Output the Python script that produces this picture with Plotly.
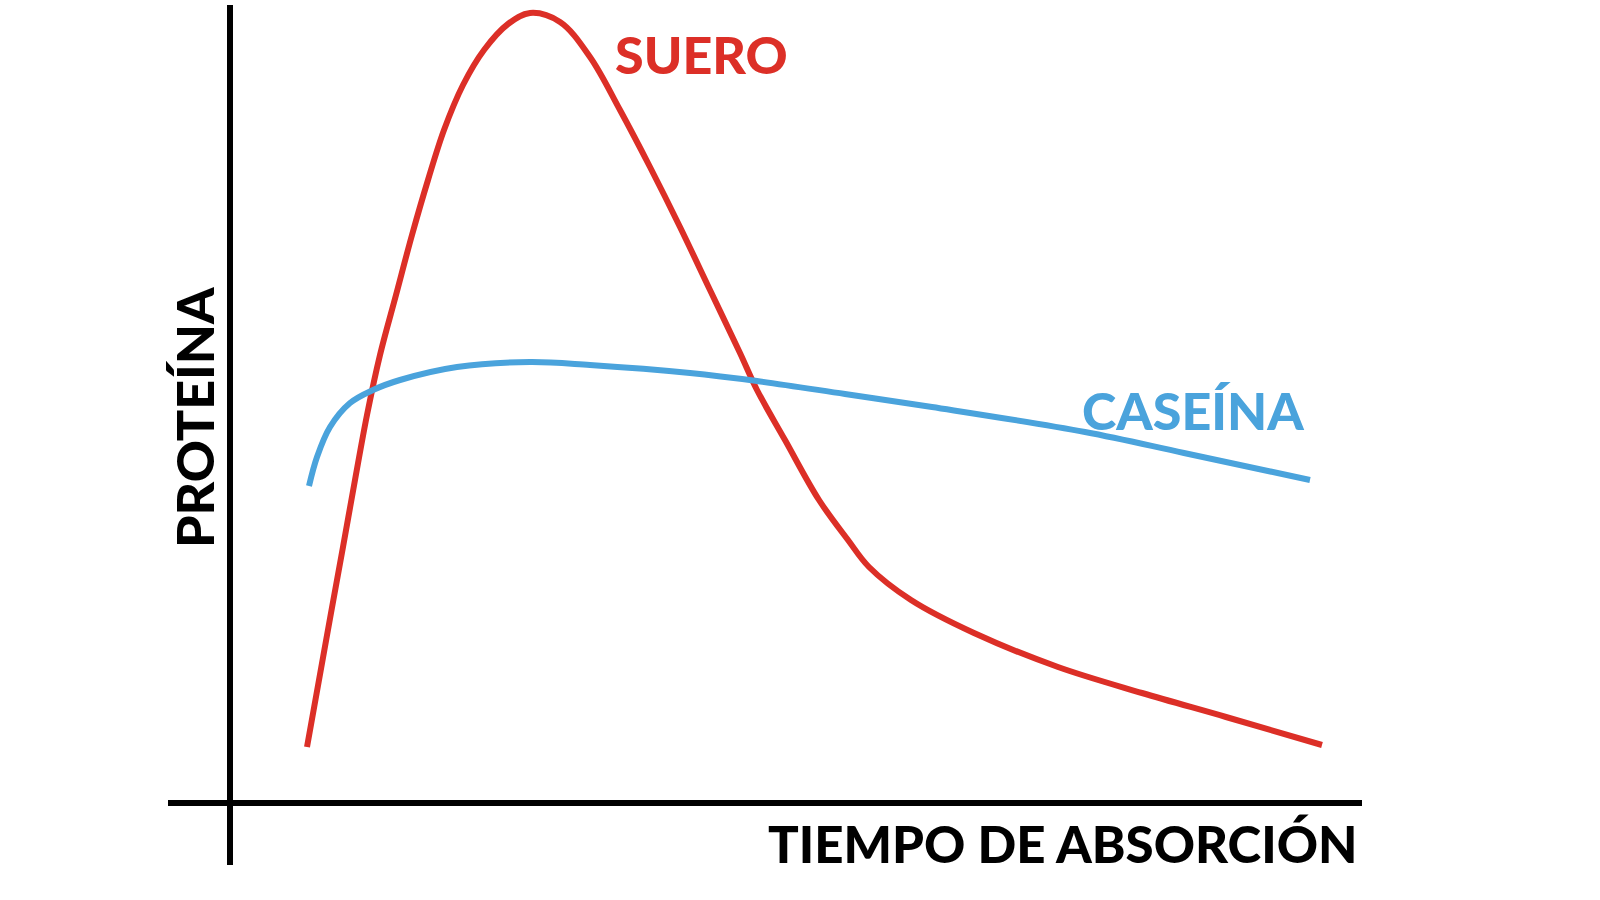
import plotly.graph_objects as go

# Suero (whey) curve: time vs protein level (arbitrary units)
suero_t = [0.77, 0.89, 1.01, 1.13, 1.25, 1.37, 1.50, 1.66, 1.82, 1.98, 2.14, 2.33, 2.54, 2.78,
           3.00, 3.30, 3.60, 3.90, 4.20, 4.50, 4.80, 5.10, 5.27, 5.55, 5.89, 6.18, 6.39,
           6.81, 7.44, 8.28, 9.12, 9.96, 10.92]
suero_p = [0.56, 1.23, 1.90, 2.56, 3.23, 3.88, 4.48, 5.08, 5.68, 6.23, 6.73, 7.18, 7.53, 7.79,
           7.90, 7.81, 7.46, 6.93, 6.36, 5.76, 5.13, 4.50, 4.13, 3.63, 3.03, 2.63, 2.36,
           2.03, 1.70, 1.36, 1.10, 0.86, 0.58]

# Caseína (casein) curve
caseina_t = [0.79, 0.87, 1.00, 1.20, 1.43, 1.70, 2.27, 3.00, 3.60, 4.60, 5.27, 6.15, 7.02,
             8.55, 9.54, 10.80]
caseina_p = [3.17, 3.46, 3.76, 4.00, 4.13, 4.23, 4.36, 4.41, 4.38, 4.30, 4.22, 4.09, 3.96,
             3.71, 3.50, 3.23]

RED = "#dc2f27"
BLUE = "#4aa3dc"
FONT = "Lato"

fig = go.Figure()
fig.add_trace(go.Scatter(x=suero_t, y=suero_p, mode="lines",
                         line=dict(color=RED, width=6, shape="spline", smoothing=1.0),
                         hoverinfo="skip"))
fig.add_trace(go.Scatter(x=caseina_t, y=caseina_p, mode="lines",
                         line=dict(color=BLUE, width=6, shape="spline", smoothing=1.0),
                         hoverinfo="skip"))

fig.update_layout(
    width=1600, height=900,
    margin=dict(l=168, r=238, t=5, b=35),
    paper_bgcolor="white", plot_bgcolor="white",
    showlegend=False,
    xaxis=dict(range=[-0.62, 11.32], showgrid=False, showticklabels=False, ticks="",
               zeroline=True, zerolinecolor="black", zerolinewidth=6, showline=False),
    yaxis=dict(range=[-0.62, 7.98], showgrid=False, showticklabels=False, ticks="",
               zeroline=True, zerolinecolor="black", zerolinewidth=6, showline=False),
    annotations=[
        dict(x=11.30, y=-0.40, xref="x", yref="y", text="TIEMPO DE ABSORCIÓN",
             showarrow=False, xanchor="right", yanchor="middle",
             font=dict(family=FONT, size=51, color="black", weight=900)),
        dict(x=-0.36, y=3.85, xref="x", yref="y", text="PROTEÍNA",
             showarrow=False, textangle=-90, xanchor="center", yanchor="middle",
             font=dict(family=FONT, size=52, color="black", weight=900)),
        dict(x=4.71, y=7.49, xref="x", yref="y", text="SUERO",
             showarrow=False, xanchor="center", yanchor="middle",
             font=dict(family=FONT, size=52, color=RED, weight=900)),
        dict(x=9.63, y=3.93, xref="x", yref="y", text="CASEÍNA",
             showarrow=False, xanchor="center", yanchor="middle",
             font=dict(family=FONT, size=52, color=BLUE, weight=900)),
    ],
)

fig.write_html("out.html", config={"displayModeBar": False},
               post_script="document.body.style.margin='0';")
